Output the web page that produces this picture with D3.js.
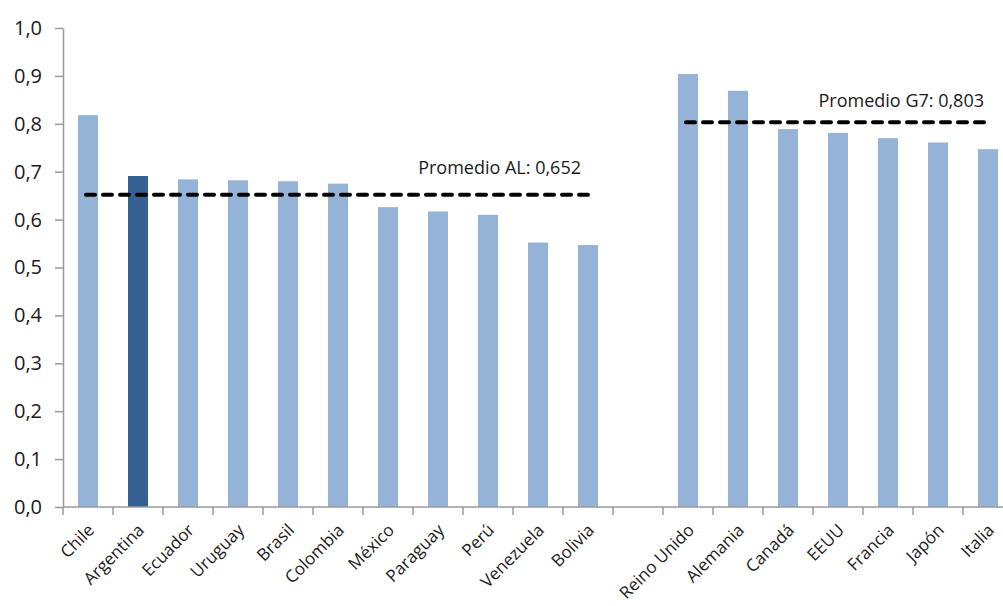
<!DOCTYPE html>
<html>
<head>
<meta charset="utf-8">
<script src="https://cdn.jsdelivr.net/npm/d3@7"></script>
<style>
  html, body { margin: 0; padding: 0; background: #fff; }
  svg { display: block; }
  text { font-family: "Open Sans", sans-serif; fill: #1a1a1a; }
</style>
</head>
<body>
<svg id="chart" width="1003" height="606"></svg>
<script>
// Countries (an empty slot separates Latin America from the G7)
const countries = ["Chile", "Argentina", "Ecuador", "Uruguay", "Brasil", "Colombia", "México",
  "Paraguay", "Perú", "Venezuela", "Bolivia", "",
  "Reino Unido", "Alemania", "Canadá", "EEUU", "Francia", "Japón", "Italia"];
const values = [0.818, 0.691, 0.684, 0.682, 0.680, 0.675, 0.626, 0.617, 0.610, 0.552, 0.547, null,
  0.904, 0.869, 0.789, 0.781, 0.770, 0.761, 0.747];
const highlighted = ["Argentina"];
const yTicks = [0, 0.1, 0.2, 0.3, 0.4, 0.5, 0.6, 0.7, 0.8, 0.9, 1.0];

// Group averages
const latamGroup = ["Chile", "Argentina", "Ecuador", "Uruguay", "Brasil", "Colombia", "México",
  "Paraguay", "Perú", "Venezuela", "Bolivia"];
const g7Group = ["Reino Unido", "Alemania", "Canadá", "EEUU", "Francia", "Japón", "Italia"];
const averages = [
  { label: "Promedio AL: 0,652", value: 0.652, members: latamGroup, dx: -7, dy: -21 },
  { label: "Promedio G7: 0,803", value: 0.803, members: g7Group, dx: -4, dy: -15 }
];

const svg = d3.select("#chart");
const plotLeft = 63, plotRight = 1013, plotTop = 28, plotBottom = 507;

const x = d3.scaleBand().domain(d3.range(countries.length))
  .range([plotLeft, plotRight]).paddingInner(0.6).paddingOuter(0.3);
const y = d3.scaleLinear().domain([0, 1]).range([plotBottom, plotTop]);
const fmt = d => d3.format(".1f")(d).replace(".", ",");
const axisColor = "#9a9a9a";

// Bars
svg.append("g").selectAll("rect")
  .data(countries.map((c, i) => ({ c, i, v: values[i] })).filter(d => d.v !== null))
  .join("rect")
  .attr("x", d => x(d.i))
  .attr("width", x.bandwidth())
  .attr("y", d => y(d.v))
  .attr("height", d => y(0) - y(d.v))
  .attr("fill", d => highlighted.includes(d.c) ? "#376092" : "#95b3d7");

// Y axis
const yAxis = svg.append("g").attr("transform", `translate(${plotLeft},0)`)
  .call(d3.axisLeft(y).tickValues(yTicks).tickFormat(fmt).tickSize(8).tickSizeOuter(0));
yAxis.select(".domain").attr("stroke", axisColor).attr("stroke-width", 1.5);
yAxis.selectAll(".tick line").attr("stroke", axisColor).attr("stroke-width", 1.5);
yAxis.selectAll(".tick text").attr("x", -21).attr("font-size", 20)
  .attr("font-family", "Open Sans").attr("fill", "#1a1a1a");

// X axis: baseline, slot-boundary ticks and rotated labels
const step = x.step();
const xg = svg.append("g");
xg.append("line").attr("x1", plotLeft).attr("x2", plotRight).attr("y1", plotBottom).attr("y2", plotBottom)
  .attr("stroke", axisColor).attr("stroke-width", 1.5);
xg.selectAll("line.tick").data(d3.range(countries.length + 1)).join("line")
  .attr("class", "tick")
  .attr("x1", i => plotLeft + i * step).attr("x2", i => plotLeft + i * step)
  .attr("y1", plotBottom).attr("y2", plotBottom + 8)
  .attr("stroke", axisColor).attr("stroke-width", 1.5);
xg.selectAll("text").data(countries.map((c, i) => ({ c, i })).filter(d => d.c !== "")).join("text")
  .attr("transform", d => `translate(${x(d.i) + x.bandwidth() / 2 + 3},${plotBottom + 20}) rotate(-45)`)
  .attr("text-anchor", "end").attr("dy", "0.35em")
  .attr("font-size", 17)
  .text(d => d.c);

// Average lines with labels
averages.forEach(a => {
  const idx = a.members.map(m => countries.indexOf(m));
  const x1 = x(d3.min(idx)) + x.bandwidth() / 2 - 2;
  const x2 = x(d3.max(idx)) + x.bandwidth() / 2;
  svg.append("line")
    .attr("x1", x1).attr("x2", x2)
    .attr("y1", y(a.value)).attr("y2", y(a.value))
    .attr("stroke", "#000").attr("stroke-width", 4)
    .attr("stroke-linecap", "round").attr("stroke-dasharray", "9 8");
  svg.append("text")
    .attr("x", x2 + a.dx).attr("y", y(a.value) + a.dy)
    .attr("text-anchor", "end").attr("font-size", 18)
    .text(a.label);
});
</script>
</body>
</html>
